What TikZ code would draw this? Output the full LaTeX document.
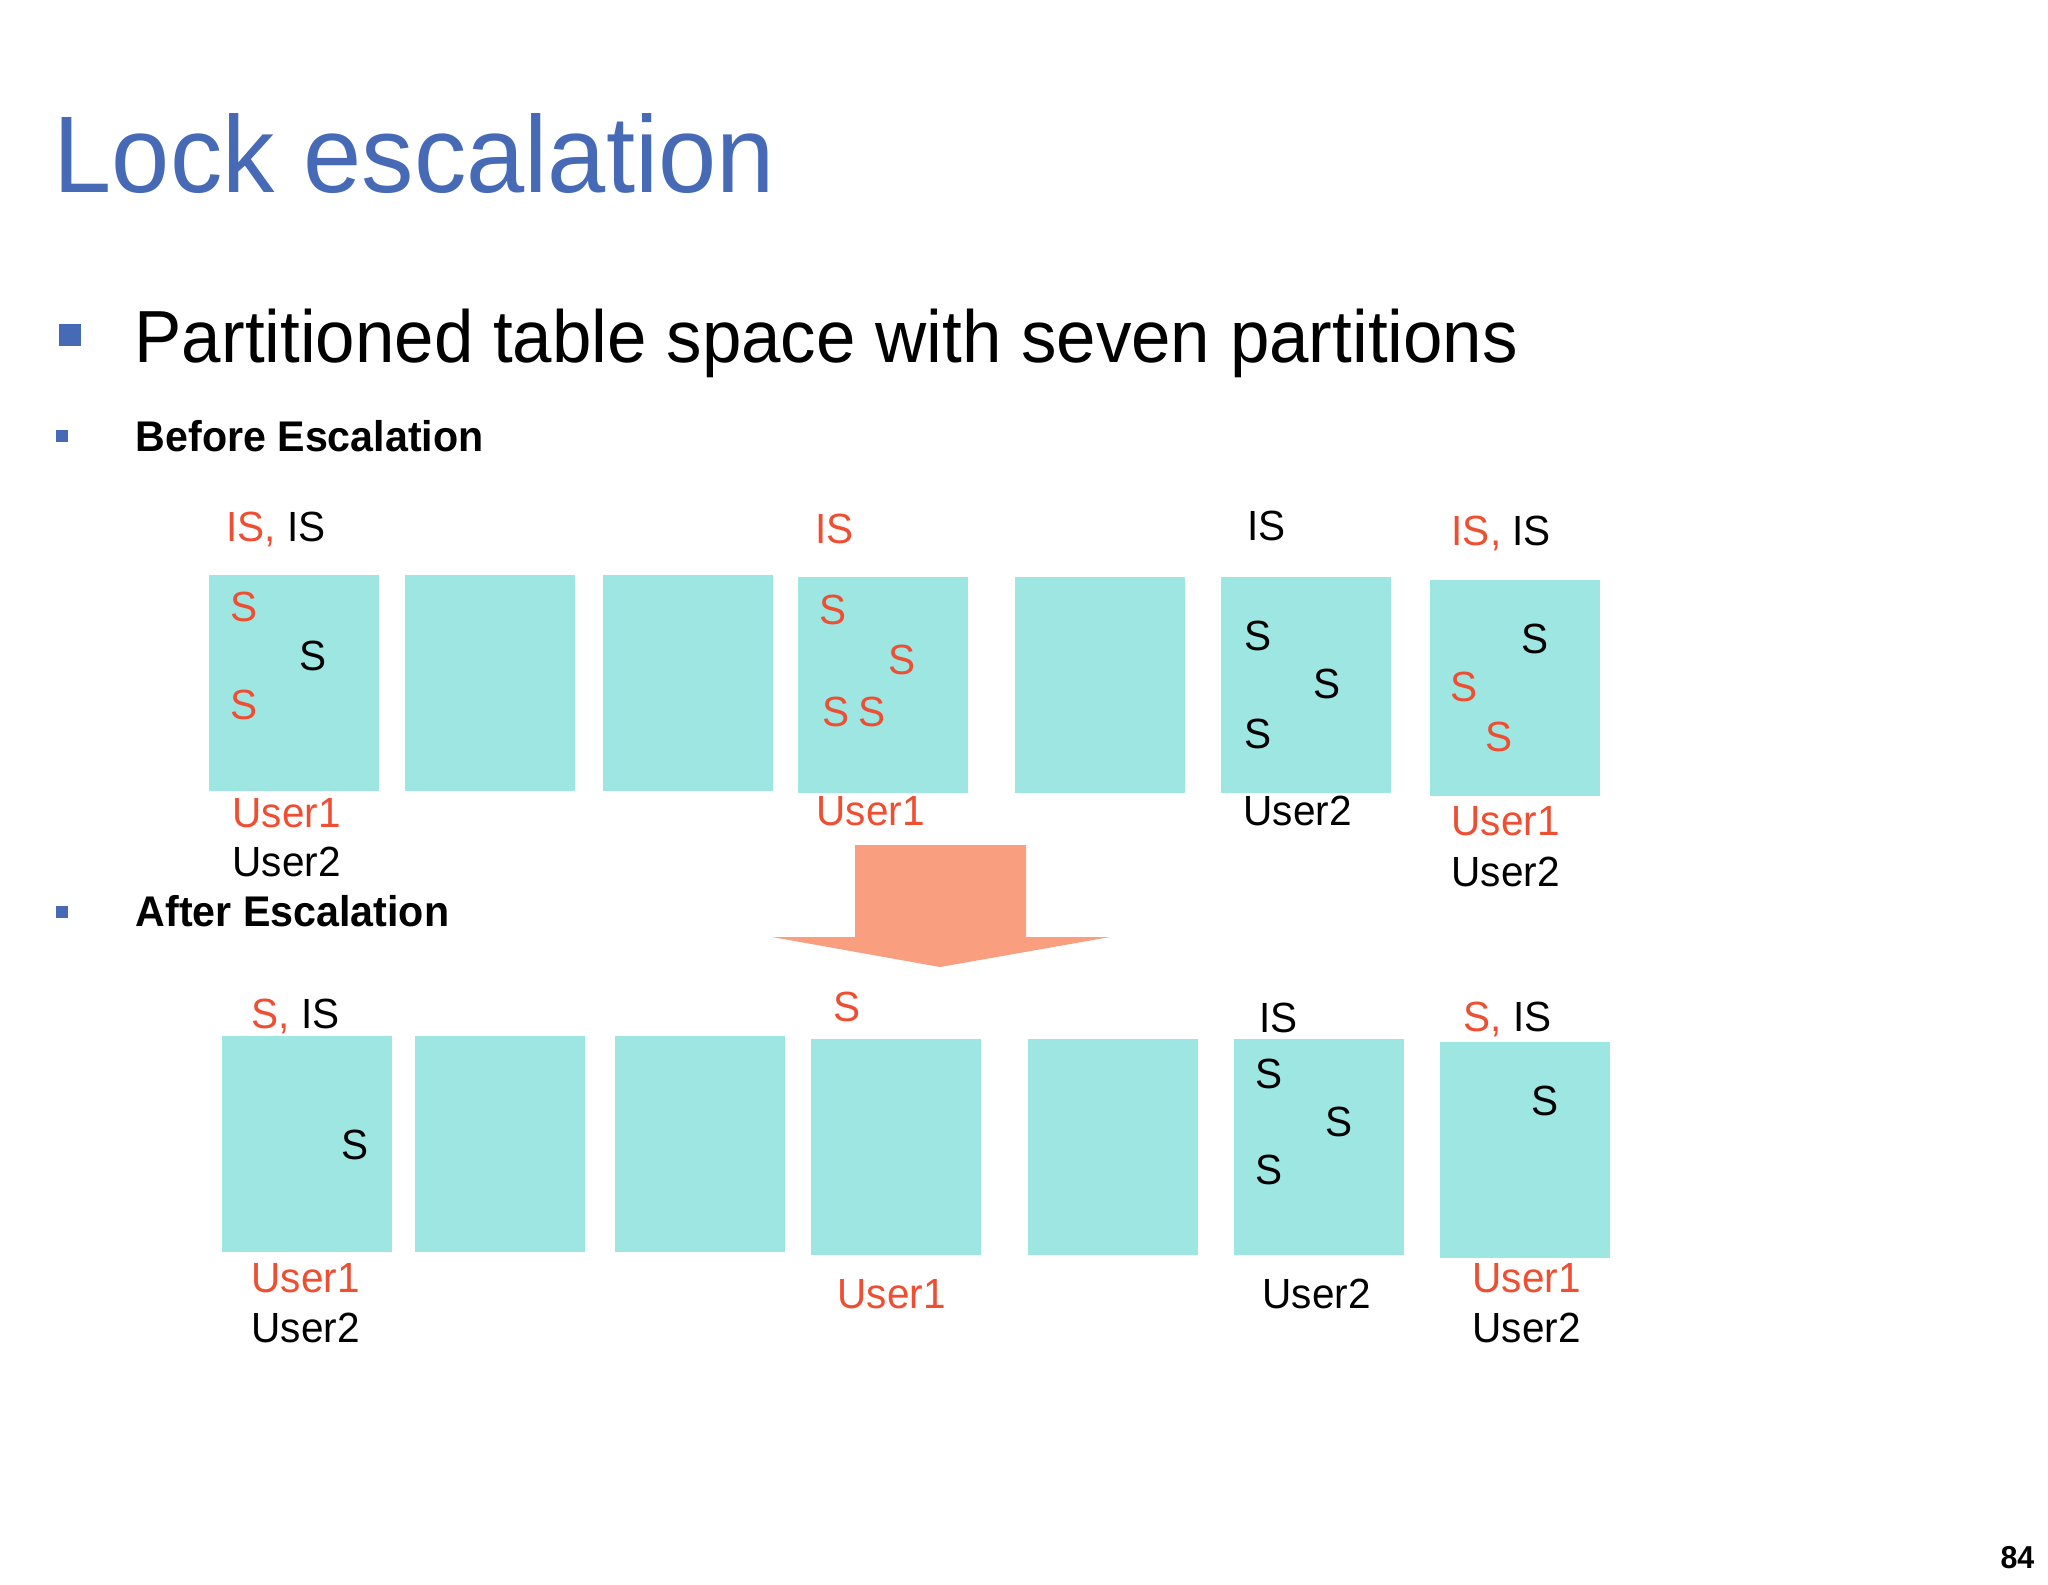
\documentclass[tikz,border=0pt]{standalone}
\usepackage{fontspec}
\setmainfont[FakeStretch=0.96]{Liberation Sans}
\definecolor{titleblue}{RGB}{70,106,182}
\definecolor{lockred}{RGB}{238,78,50}
\definecolor{boxfill}{RGB}{158,230,226}
\definecolor{arrowfill}{RGB}{250,158,128}
\tikzset{
  part/.style={fill=boxfill,minimum width=1.7cm,minimum height=2.15cm,inner sep=0pt},
  lbl/.style={font=\fontsize{12}{14}\selectfont,inner sep=0pt,anchor=base west},
  mk/.style={font=\fontsize{12}{14}\selectfont,inner sep=0pt},
  bul/.style={fill=titleblue,inner sep=0pt}
}
\begin{document}
\begin{tikzpicture}[x=0.01cm,y=-0.01cm]
        \useasboundingbox (0,0) rectangle (2048,1584);

        % heading and bullets
        \node[inner sep=0pt,anchor=base west,text=titleblue,font=\fontsize{31}{37}\selectfont] (title) at (53,192) {Lock escalation};
        \node[bul,minimum size=0.22cm] (dot1) at (70,335) {};
        \node[inner sep=0pt,anchor=base west,font=\fontsize{21}{25}\selectfont] (sub) at (134,362) {Partitioned table space with seven partitions};
        \node[bul,minimum size=0.12cm] (dot2) at (62,436) {};
        \node[inner sep=0pt,anchor=base west,font=\bfseries\fontsize{12.2}{15}\selectfont] (before) at (135,451) {Before Escalation};
        \node[bul,minimum size=0.12cm] (dot3) at (62,912) {};
        \node[inner sep=0pt,anchor=base west,font=\bfseries\fontsize{12.2}{15}\selectfont] (after) at (135,926) {After Escalation};

        % partitions
        \foreach \n/\x/\y in {b1/294/683,b2/490/683,b3/688/683,b4/883/685,b5/1100/685,b6/1306/685,b7/1515/688,
                              c1/307/1144,c2/500/1144,c3/700/1144,c4/896/1147,c5/1113/1147,c6/1319/1147,c7/1525/1150}
            \node[part] (\n) at (\x,\y) {};

        % before: table space locks
        \node[lbl] (tb1) at (226,541) {\textcolor{lockred}{IS,} IS};
        \node[lbl,text=lockred] (tb4) at (815,543) {IS};
        \node[lbl] (tb6) at (1247,540) {IS};
        \node[lbl] (tb7) at (1451,545) {\textcolor{lockred}{IS,} IS};

        % before: page locks
        \node[mk,text=lockred] (s11) at (244,607) {S};
        \node[mk] (s12) at (313,656) {S};
        \node[mk,text=lockred] (s13) at (244,705) {S};
        \node[mk,text=lockred] (s41) at (833,610) {S};
        \node[mk,text=lockred] (s42) at (902,660) {S};
        \node[mk,text=lockred] (s43) at (836,712) {S};
        \node[mk,text=lockred] (s44) at (872,712) {S};
        \node[mk] (s61) at (1258,636) {S};
        \node[mk] (s62) at (1327,684) {S};
        \node[mk] (s63) at (1258,734) {S};
        \node[mk] (s71) at (1535,639) {S};
        \node[mk,text=lockred] (s72) at (1464,687) {S};
        \node[mk,text=lockred] (s73) at (1499,737) {S};

        % before: users
        \node[lbl,text=lockred] (ub1a) at (232,827) {User1};
        \node[lbl] (ub1b) at (232,876) {User2};
        \node[lbl,text=lockred] (ub4) at (816,825) {User1};
        \node[lbl] (ub6) at (1243,825) {User2};
        \node[lbl,text=lockred] (ub7a) at (1451,835) {User1};
        \node[lbl] (ub7b) at (1451,886) {User2};

        % escalation arrow
        \fill[arrowfill] (855,845) -- (1026,845) -- (1026,937) -- (1110,937) -- (940,967) -- (772,937) -- (855,937) -- cycle;

        % after: table space locks
        \node[lbl] (tc1) at (251,1028) {\textcolor{lockred}{S,} IS};
        \node[lbl,text=lockred] (tc4) at (833,1021) {S};
        \node[lbl] (tc6) at (1259,1032) {IS};
        \node[lbl] (tc7) at (1463,1031) {\textcolor{lockred}{S,} IS};

        % after: page locks
        \node[mk] (r11) at (355,1145) {S};
        \node[mk] (r61) at (1269,1074) {S};
        \node[mk] (r62) at (1339,1122) {S};
        \node[mk] (r63) at (1269,1170) {S};
        \node[mk] (r71) at (1545,1101) {S};

        % after: users
        \node[lbl,text=lockred] (uc1a) at (251,1292) {User1};
        \node[lbl] (uc1b) at (251,1342) {User2};
        \node[lbl,text=lockred] (uc4) at (837,1308) {User1};
        \node[lbl] (uc6) at (1262,1308) {User2};
        \node[lbl,text=lockred] (uc7a) at (1472,1292) {User1};
        \node[lbl] (uc7b) at (1472,1342) {User2};

        \node[inner sep=0pt,anchor=base east,font=\bfseries\fontsize{9}{11}\selectfont] (page) at (2035,1568) {84};
\end{tikzpicture}
\end{document}
